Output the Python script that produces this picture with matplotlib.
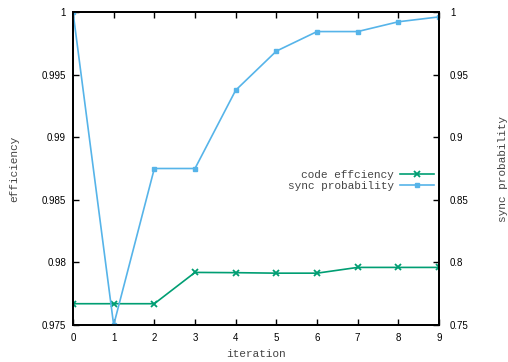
import matplotlib
matplotlib.use('Agg')
import matplotlib.pyplot as plt

# iteration results
iterations = [0, 1, 2, 3, 4, 5, 6, 7, 8, 9]
code_efficiency = [0.9767, 0.9767, 0.9767, 0.9792, 0.97918, 0.97914, 0.97914, 0.9796, 0.9796, 0.9796]
sync_probability = [1.0, 0.75, 0.875, 0.875, 0.9375, 0.96875, 0.984375, 0.984375, 0.9921875, 0.99609375]

eff_ticks = [0.975, 0.98, 0.985, 0.99, 0.995, 1]
eff_ticklabels = ['0.975', '0.98', '0.985', '0.99', '0.995', '1']
sync_ticks = [0.75, 0.8, 0.85, 0.9, 0.95, 1]
sync_ticklabels = ['0.75', '0.8', '0.85', '0.9', '0.95', '1']

GREEN = '#009e73'
BLUE = '#56b4e9'
TICK_FONT = 'Liberation Sans'
LABEL_FONT = 'Liberation Mono'

fig = plt.figure(figsize=(5.08, 3.62), dpi=100)
ax = fig.add_axes([73 / 508, 1 - 325 / 362, 366 / 508, 313 / 362])
ax2 = ax.twinx()

l1, = ax.plot(iterations, code_efficiency, color=GREEN, lw=1.2, marker='x',
              ms=4, mew=1.3, label='code effciency')
l2, = ax2.plot(iterations, sync_probability, color=BLUE, lw=1.2, marker='s',
               ms=3.5, label='sync probability')

ax.set_xlim(0, 9)
ax.set_ylim(0.975, 1)
ax2.set_ylim(0.75, 1)

ax.set_xticks(iterations)
ax.set_xticklabels([str(i) for i in iterations], fontsize=7, family=TICK_FONT)
ax.set_yticks(eff_ticks)
ax.set_yticklabels(eff_ticklabels, fontsize=7, family=TICK_FONT)
ax2.set_yticks(sync_ticks)
ax2.set_yticklabels(sync_ticklabels, fontsize=7, family=TICK_FONT)

ax.tick_params(axis='x', direction='in', top=True, length=4, width=1, pad=6)
ax.tick_params(axis='y', direction='in', left=True, right=False, length=4, width=1, pad=5)
ax2.tick_params(axis='y', direction='in', right=True, length=4, width=1, pad=8)

for a in (ax, ax2):
    for s in a.spines.values():
        s.set_linewidth(1.3)

ax.set_xlabel('iteration', family=LABEL_FONT, fontsize=8, color='#444444')
ax.xaxis.set_label_coords(0.5, -0.078)
ax.set_ylabel('efficiency', family=LABEL_FONT, fontsize=8, color='#444444', va='center')
ax.yaxis.set_label_coords(-0.161, 0.5)
ax2.set_ylabel('sync probability', family=LABEL_FONT, fontsize=8, color='#444444',
               rotation=90, va='center')
ax2.yaxis.set_label_coords(1.176, 0.5)

leg = ax2.legend(handles=[l1, l2], loc='center right', bbox_to_anchor=(0.985, 0.462),
                 frameon=False, markerfirst=False, handlelength=3.0, handletextpad=0.6,
                 labelspacing=0.15, borderpad=0, borderaxespad=0,
                 prop={'family': LABEL_FONT, 'size': 8})
for t in leg.get_texts():
    t.set_color('#444444')

fig.savefig('out.png', dpi=100)
